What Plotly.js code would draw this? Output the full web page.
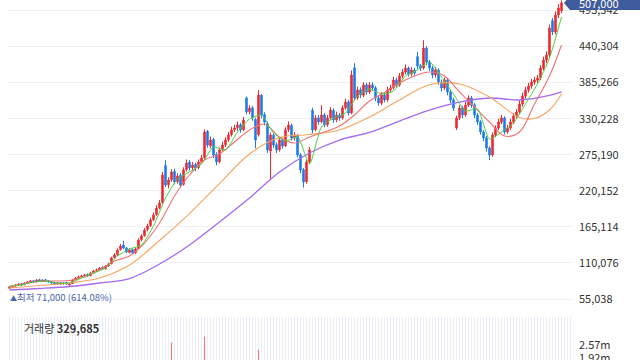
<!DOCTYPE html>
<html><head><meta charset="utf-8">
<script src="https://cdn.plot.ly/plotly-3.0.1.min.js"></script>
<style>html,body{margin:0;padding:0;background:#fff}#chart{width:640px;height:360px}</style>
</head><body><div id="chart"></div>
<script>
const openP = [71500,73000,75000,76500,78500,77000,79500,81000,83000,81500,
84500,82000,84500,83000,81500,80000,78000,80000,78000,80500,
76500,78500,84500,87500,89000,90500,92500,90500,95000,98500,
99500,103500,101000,105500,109000,118000,122500,130500,137500,133000,
126000,130500,125500,132000,145500,151500,161000,167000,176000,184000,
194500,202000,259000,229500,237000,250000,234000,244000,230000,252500,
264000,255500,260500,255500,264500,270500,311000,289000,298500,276000,
264500,283000,290500,298000,306000,313500,316500,321000,313500,361800,
341000,347000,329000,306000,366000,336500,323000,281000,305000,290500,
283000,298000,289000,313500,320000,301000,305000,275000,252500,234000,
264500,343000,313500,331500,325500,336000,321000,331500,343000,328500,
336000,331500,347000,356000,339000,408000,362000,374500,366000,382000,
371000,382000,377500,362000,354000,366500,359000,374000,377500,389500,
381500,395500,401500,407500,398500,404500,425000,411000,407500,438000,
417000,407500,397000,404500,386000,377000,389000,371000,359000,316000,
331500,347000,336000,351000,362000,351500,336000,325500,310000,301000,
285500,275000,305500,316000,325000,331500,310000,316000,325000,334500,
340500,352500,365000,374000,380000,386000,389000,392500,407500,419500,
427500,480000,462500,488500,495000];
const highP = [74500,76000,77500,79000,79500,80500,82500,84000,84000,85500,
86000,85000,85500,84000,82500,81000,80500,81000,80500,81500,
79000,85500,88500,90500,92000,93500,94000,96000,99500,101500,
104000,105000,107000,110500,119500,125000,132500,139000,144000,134500,
132000,132000,133500,147500,154000,163500,170000,179000,187000,198000,
206000,249000,267000,241000,253000,254000,247000,247000,256000,268000,
267000,264000,263000,268000,275000,314000,313000,303000,301000,279000,
286000,295000,302000,310000,318000,321000,326000,324000,333000,364000,
351000,350000,332000,374000,368000,340000,326000,309000,308000,294000,
302000,301000,317000,326000,323000,310000,307000,278000,255000,268000,
287000,347000,336000,336000,351000,339000,336000,348000,346000,341000,
339000,351000,361000,359000,404000,415000,379000,378000,386000,385000,
386000,386000,380000,366000,371000,370000,379000,382000,394000,393000,
400000,406000,413000,410000,409000,408000,432000,414000,450000,441000,
420000,411000,409000,407000,390000,393000,392000,374000,362000,335000,
351000,350000,356000,366000,365000,354000,339000,328000,313000,304000,
288000,309000,320000,330000,336000,334000,321000,330000,339000,345000,
358000,370000,379000,385000,391000,394000,397000,412000,425000,433000,
474000,484000,494000,505000,511000];
const lowP = [71000,72500,74000,75500,75500,76000,78500,80000,80000,80500,
81500,81000,81500,80000,78500,76500,77000,77000,77000,77000,
75500,78000,83500,86000,88000,89500,89000,90000,94000,96500,
98500,99500,100000,104000,108000,116500,121000,129000,131000,125000,
124500,123500,124000,130500,143000,150000,158500,165000,174000,182000,
192000,200500,226000,224000,234000,230000,231000,225000,228000,250000,
251000,252000,250000,253000,262000,268000,286000,285000,270000,259000,
262000,280000,287000,295000,303000,310000,312000,309000,311000,337000,
337000,327000,285000,303000,331000,320000,278000,238000,286000,278000,
280000,285000,287000,310000,297000,297000,271000,247000,225000,231000,
262000,308000,311000,321000,323000,317000,318000,329000,324000,325000,
327000,329000,344000,335000,337000,358000,359000,362000,363000,367000,
368000,373000,357000,350000,351000,355000,356000,370000,375000,378000,
379000,392000,398000,395000,395000,396000,406000,403000,405000,412000,
403000,392000,393000,382000,372000,374000,366000,354000,342000,313000,
328000,331000,333000,348000,347000,331000,321000,306000,296000,280000,
267000,272000,302000,313000,322000,306000,307000,313000,322000,331000,
338000,349000,361000,370000,376000,382000,385000,389000,404000,415000,
424000,458000,459000,484000,491000];
const closeP = [73400,74900,76400,77900,76400,79500,81000,82500,81000,84000,
82500,84000,82500,81000,79500,77900,79500,77900,79500,77900,
77900,84000,87100,88600,90100,91700,90100,94700,97800,99300,
102400,100800,105400,108500,117600,122200,129800,135900,132900,126800,
129800,125200,131400,145100,151200,160400,166500,175600,183200,193900,
201600,244300,229000,236700,248900,233600,242800,229000,251900,262600,
255000,259600,255000,264100,270200,309900,290100,297700,274800,264100,
282500,290100,297700,305400,313000,316000,320600,313000,328200,340500,
346600,331300,297700,366400,335900,325200,282500,305400,290100,282500,
297700,288600,313000,320600,300800,305400,274800,251900,233600,264100,
282500,313000,331300,325200,335900,320600,331300,343500,328200,335900,
331300,346600,355700,338900,396900,361800,374000,366400,381700,371000,
381700,377100,361800,354200,366400,358800,374000,377100,389300,381700,
395400,401500,407600,398500,404600,400000,410700,407600,438100,416800,
407600,396900,404600,386200,377100,389300,371000,358800,346600,331300,
346600,335900,351100,361800,351100,335900,325200,309900,300800,285500,
274800,305400,316000,325200,331300,309900,316000,325200,334400,340500,
352700,364900,374000,380100,386200,389300,392400,407600,419800,427500,
468700,462600,488500,499200,507000];
const volume = [520000,410000,460000,390000,350000,480000,530000,440000,370000,610000,
450000,400000,380000,360000,420000,470000,350000,330000,310000,390000,
560000,880000,720000,640000,590000,520000,480000,690000,760000,710000,
820000,650000,900000,980000,1350000,1280000,1520000,1460000,1390000,1100000,
920000,870000,980000,1420000,1380000,1510000,1330000,1460000,1290000,1550000,
1480000,1690000,1610000,1240000,2720000,1420000,1350000,1180000,1460000,1520000,
1130000,980000,870000,1050000,1210000,3030000,1640000,1340000,1250000,1180000,
1020000,960000,890000,940000,1010000,870000,830000,790000,920000,1280000,
1150000,1060000,1380000,2350000,1320000,1070000,1440000,1580000,1030000,890000,
860000,810000,920000,880000,830000,760000,1120000,1360000,1520000,1240000,
1050000,990000,930000,860000,880000,810000,760000,840000,790000,720000,
690000,780000,820000,750000,1480000,1330000,940000,820000,860000,780000,
740000,690000,720000,680000,650000,630000,700000,660000,760000,690000,
740000,810000,780000,720000,690000,640000,980000,860000,1250000,1060000,
880000,830000,760000,790000,850000,740000,810000,870000,920000,1010000,
860000,780000,740000,720000,690000,760000,810000,880000,830000,910000,
1020000,1150000,870000,790000,740000,820000,700000,680000,720000,760000,
810000,850000,830000,790000,760000,740000,720000,880000,950000,1010000,
1450000,1280000,1160000,980000,329685];

const ma5Day = [0,4,8,12,16,20,24,28,32,36,40,44,48,52,56,60,64,68,72,76,80,84,88,92,96,100,104,108,112,116,120,124,128,132,136,140,144,148,152,156,160,164,168,172,176,180,184];
const ma5 = [74900,76400,81000,82500,79500,79500,87100,94700,102400,120700,131400,137500,166500,209200,238200,248900,261100,287000,282500,309900,329800,335900,308400,296200,302300,261100,317600,331300,338900,364900,375600,367900,372500,395400,404600,416800,393900,367900,342000,345000,299200,309900,323700,352700,383200,422900,485400];
const ma20Day = [0,5,10,15,20,25,30,35,40,45,50,55,60,65,70,75,80,85,90,95,100,105,110,115,120,125,130,135,140,145,150,155,160,165,170,175,180,184];
const ma20 = [73400,78700,81800,82500,83300,88600,99300,113000,120700,140500,171000,212300,244300,267200,276400,294700,313000,322100,302300,293100,302300,309900,319100,335900,357300,370200,384700,395400,401500,395400,371000,348100,325200,303800,309900,352700,395400,442700];
const ma60Day = [0,10,20,30,40,50,60,70,80,90,100,110,120,130,140,150,160,170,175,180,184];
const ma60 = [71800,75600,79500,87100,106900,144300,185500,231300,276400,301500,306100,313000,332800,358800,382100,383200,363400,332100,330500,343500,367900];
const ma120Day = [0,10,20,30,40,50,60,70,80,90,100,110,120,130,140,150,160,170,180,184];
const ma120 = [68800,71100,74100,79500,86300,108400,137500,172600,209200,248900,277900,297700,309200,326700,343500,355700,361800,358800,365700,371000];

const priceTicks = [55038,110076,165114,220152,275190,330228,385266,440304,495342];
const priceTickText = ['55,038','110,076','165,114','220,152','275,190','330,228','385,266','440,304','495,342'];
const volTicks = [1920000,2570000];
const volTickText = ['1.92m','2.57m'];

const days = closeP.map((_, i) => i);
const lastClose = closeP[closeP.length - 1];
const minLow = Math.min(...lowP);
const pct = ((lastClose - minLow) / minLow * 100).toFixed(2);
const fmt = v => v.toLocaleString('en-US');
const UP = '#ee2a2f', DOWN = '#1d7cec';
const volColors = closeP.map((c, i) => c >= openP[i] ? '#f27a7a' : '#7daef0');
const FONT = 'Noto Sans CJK KR, Noto Sans, sans-serif';

const traces = [
  {type:'candlestick', x:days, open:openP, high:highP, low:lowP, close:closeP, xaxis:'x', yaxis:'y',
   increasing:{line:{color:UP,width:1}, fillcolor:UP}, decreasing:{line:{color:DOWN,width:1}, fillcolor:DOWN},
   whiskerwidth:0, hoverinfo:'skip'},
  {type:'scatter', mode:'lines', x:ma120Day, y:ma120, line:{color:'#a46bf2', width:1.3, shape:'spline'}, xaxis:'x', yaxis:'y', hoverinfo:'skip'},
  {type:'scatter', mode:'lines', x:ma60Day, y:ma60, line:{color:'#f8a45e', width:1.1, shape:'spline'}, xaxis:'x', yaxis:'y', hoverinfo:'skip'},
  {type:'scatter', mode:'lines', x:ma20Day, y:ma20, line:{color:'#f27171', width:1.1, shape:'spline'}, xaxis:'x', yaxis:'y', hoverinfo:'skip'},
  {type:'scatter', mode:'lines', x:ma5Day, y:ma5, line:{color:'#4ccf45', width:1, shape:'spline', smoothing:0.6}, xaxis:'x', yaxis:'y', hoverinfo:'skip'},
  {type:'bar', x:days, y:volume, marker:{color:volColors}, width:0.4, xaxis:'x2', yaxis:'y2', hoverinfo:'skip'}
];

const layout = {
  width:640, height:360, margin:{l:8, r:68, t:0, b:0},
  paper_bgcolor:'#ffffff', plot_bgcolor:'#ffffff', showlegend:false, hovermode:false,
  font:{family:FONT, size:11, color:'#333'},
  xaxis:{domain:[0,1], range:[-0.5,187.5], showgrid:false, showticklabels:false, zeroline:false,
         rangeslider:{visible:false}, anchor:'y', ticks:''},
  yaxis:{domain:[0.1444,1], range:[41300,511400], side:'right', tickvals:priceTicks, ticktext:priceTickText,
         gridcolor:'#eef0f4', gridwidth:1, zeroline:false, showline:false, ticks:'', ticklabelstandoff:6,
         tickfont:{family:FONT, size:11, color:'#333'}, anchor:'x'},
  xaxis2:{domain:[0,1], range:[-0.5,187.5], anchor:'y2', showgrid:true, tick0:0, dtick:1, gridcolor:'#ebeef8',
          showticklabels:false, zeroline:false, ticks:''},
  yaxis2:{domain:[0,0.1194], range:[1816000,4050000], side:'right', tickvals:volTicks, ticktext:volTickText,
          showgrid:false, zeroline:false, ticks:'', ticklabelstandoff:6, anchor:'x2', ticklabeloverflow:'allow',
          tickfont:{family:FONT, size:11, color:'#333'}},
  shapes:[
    {type:'path', xref:'paper', yref:'y', xsizemode:'pixel', ysizemode:'pixel', xanchor:1, yanchor:lastClose,
     path:'M -8,0 L -2,7 L 75,7 L 75,-7 L -2,-7 Z', fillcolor:'#3f5b9d', line:{width:0}, layer:'above'}
  ],
  annotations:[
    {xref:'paper', x:1, xanchor:'left', xshift:5, yref:'y', y:lastClose, yanchor:'middle', showarrow:false,
     text:fmt(lastClose), font:{family:FONT, size:11, color:'#ffffff'}},
    {xref:'paper', x:0, xanchor:'left', yref:'y', y:minLow, yanchor:'top', yshift:1, showarrow:false,
     text:'<span style="font-size:7px">▲</span>최저 ' + fmt(minLow) + ' (' + pct + '%)',
     font:{family:FONT, size:9.5, color:'#4a66ae'}},
    {xref:'paper', x:0.0248, xanchor:'left', yref:'paper', y:0.0889, yanchor:'middle', showarrow:false,
     text:'거래량 <b>' + fmt(volume[volume.length - 1]) + '</b>', font:{family:FONT, size:11, color:'#333'}}
  ]
};
Plotly.newPlot('chart', traces, layout, {displayModeBar:false, staticPlot:true});
</script></body></html>
